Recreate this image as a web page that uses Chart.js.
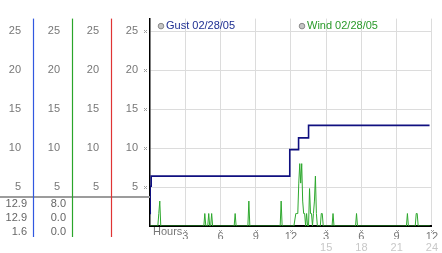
<!DOCTYPE html>
<html>
<head>
<meta charset="utf-8">
<script src="https://cdn.jsdelivr.net/npm/chart.js@4.4.0/dist/chart.umd.min.js"></script>
<style>
  html, body { margin: 0; padding: 0; background: #fff; }
  canvas { display: block; }
</style>
</head>
<body>
<canvas id="windChart" width="442" height="253"></canvas>
<script>
// Gust readings: hour of day and speed
const gustHours = [0, 0.02, 0.1, 11.9, 12.65, 13.5, 23.8];
const gustSpeeds = [1.6, 5.1, 6.4, 9.8, 11.3, 12.9, 12.9];

// Wind readings: minute of day and speed (5 minute samples around each gust of wind)
const windMinutes = [0, 40, 45, 50, 55, 275, 280, 285, 295, 300, 305, 310, 315, 320,
    430, 435, 440, 500, 505, 510, 665, 670, 675,
    735, 745, 750, 755, 760, 765, 770, 775, 780, 785, 790, 795, 800, 805, 810, 815, 820, 825,
    830, 835, 840, 845, 850, 855, 870, 875, 880, 885, 930, 935, 940,
    1050, 1055, 1060, 1310, 1315, 1320, 1355, 1360, 1365, 1370, 1430];
const windSpeeds = [0, 0, 1.6, 3.2, 0, 0, 1.6, 0, 0, 1.6, 0, 0, 1.6, 0,
    0, 1.6, 0, 0, 3.2, 0, 0, 3.2, 0,
    0, 1.6, 1.6, 1.6, 5.5, 8.0, 5.5, 8.0, 3.2, 1.6, 1.6, 0, 1.6, 0, 0, 4.8, 1.6, 1.6,
    0, 1.6, 3.2, 6.4, 1.6, 0, 0, 1.6, 1.6, 0, 0, 1.6, 0,
    0, 1.6, 0, 0, 1.6, 0, 0, 1.6, 1.6, 0, 0];

const seriesLabels = ['Gust 02/28/05', 'Wind 02/28/05'];
const yTickValues = [5, 10, 15, 20, 25];
const yMax = 26.6;
const xTickValues = [3, 6, 9, 12, 15, 18, 21, 24];
const xTopLabels = ['3', '6', '9', '12', '3', '6', '9', '12'];
const xBottomLabels = ['', '', '', '', '15', '18', '21', '24'];

const gustColor = '#101080';
const windColor = '#2ea82e';

Chart.defaults.font.family = '"Liberation Sans", Arial, sans-serif';
Chart.defaults.font.size = 11;

document.addEventListener('DOMContentLoaded', function() {
    buildChart();
});

// Little dotted tick marker
function drawDotMark(ctx, cx, cy) {
    cx = Math.round(cx);
    cy = Math.round(cy);
    [[-1, -1], [1, -1], [0, 0], [-1, 1], [1, 1]].forEach(([dx, dy]) => {
        ctx.fillRect(cx + dx, cy + dy, 1, 1);
    });
}

// Left panel lines, stats, legend and markers
const panelPlugin = {
    id: 'panelDecor',
    afterDraw(chart) {
        const ctx = chart.ctx;
        const area = chart.chartArea;
        const s = chart.scales;
        ctx.save();

        // separator across the left panel
        ctx.fillStyle = '#9c9c9c';
        ctx.fillRect(0, area.bottom - 30, area.left, 2);

        // colored column lines
        [['yGust', '#3058e0'], ['yWind', '#2aa52a'], ['yExtra', '#e03434']].forEach(([id, color]) => {
            const x = Math.round(s[id].right) + 0.5;
            ctx.strokeStyle = color;
            ctx.lineWidth = 1.2;
            ctx.beginPath();
            ctx.moveTo(x, area.top);
            ctx.lineTo(x, area.bottom + 11);
            ctx.stroke();
        });

        // max / last / min under each column
        ctx.font = '11px "Liberation Sans", Arial, sans-serif';
        ctx.fillStyle = '#666';
        ctx.textAlign = 'right';
        ctx.textBaseline = 'middle';
        [['yGust', gustSpeeds], ['yWind', windSpeeds]].forEach(([id, values]) => {
            const stats = [Math.max(...values), values[values.length - 1], Math.min(...values)];
            stats.forEach((v, i) => {
                ctx.fillText(v.toFixed(1), s[id].right - 6, area.bottom - 22 + i * 14);
            });
        });

        // dotted markers on ticks
        ctx.fillStyle = '#a0a0a0';
        yTickValues.forEach(v => drawDotMark(ctx, s.y.right - 5, s.y.getPixelForValue(v)));
        xTickValues.forEach(v => drawDotMark(ctx, s.x.getPixelForValue(v), area.bottom + 5));

        // axis caption
        ctx.fillStyle = '#777';
        ctx.textAlign = 'left';
        ctx.fillText('Hours', area.left + 3, area.bottom + 6);

        // legend
        const legendX = [area.left + 11, area.left + 152];
        chart.data.datasets.forEach((ds, i) => {
            const cx = legendX[i];
            const cy = area.top + 7.5;
            ctx.beginPath();
            ctx.arc(cx, cy, 2.8, 0, Math.PI * 2);
            ctx.fillStyle = '#c4c4c4';
            ctx.fill();
            ctx.strokeStyle = '#8a8a8a';
            ctx.lineWidth = 1;
            ctx.stroke();
            ctx.fillStyle = ds.legendColor;
            ctx.fillText(ds.label, cx + 5, cy);
        });
        ctx.restore();
    }
};

function leftAxis(weight, width, extra) {
    return Object.assign({
        position: 'left',
        min: 0,
        max: yMax,
        weight: weight,
        afterBuildTicks: sc => { sc.ticks = yTickValues.map(v => ({ value: v })); },
        afterFit: sc => { sc.width = width; },
        grid: { display: false, drawTicks: false },
        border: { display: false },
        ticks: { color: '#777', padding: 12 }
    }, extra || {});
}

function buildChart() {
    const ctx = document.getElementById('windChart').getContext('2d');
    window.windChart = new Chart(ctx, {
        type: 'line',
        data: {
            datasets: [{
                label: seriesLabels[0],
                data: gustHours.map((h, i) => ({ x: h, y: gustSpeeds[i] })),
                borderColor: gustColor,
                legendColor: '#1e2f92',
                borderWidth: 1.6,
                stepped: true,
                pointRadius: 0,
                fill: false,
                xAxisID: 'x',
                yAxisID: 'y'
            }, {
                label: seriesLabels[1],
                data: windMinutes.map((m, i) => ({ x: m / 60, y: windSpeeds[i] })),
                borderColor: windColor,
                legendColor: '#2a9a2a',
                borderWidth: 1,
                tension: 0,
                pointRadius: 0,
                fill: false,
                xAxisID: 'x',
                yAxisID: 'y'
            }]
        },
        options: {
            responsive: false,
            devicePixelRatio: 1,
            animation: false,
            layout: { padding: { top: 13, right: 4, bottom: 0, left: 0 } },
            plugins: {
                legend: { display: false },
                tooltip: { enabled: false }
            },
            scales: {
                x: {
                    type: 'linear',
                    position: 'bottom',
                    min: 0,
                    max: 24,
                    weight: 1,
                    afterBuildTicks: sc => { sc.ticks = xTickValues.map(v => ({ value: v })); },
                    afterFit: sc => { sc.height = 13; },
                    grid: { color: '#dcdcdc', drawTicks: false },
                    border: { color: '#000', width: 2 },
                    ticks: {
                        color: '#777',
                        padding: 4,
                        maxRotation: 0,
                        autoSkip: false,
                        callback: (v, i) => xTopLabels[i]
                    }
                },
                x2: {
                    type: 'linear',
                    position: 'bottom',
                    min: 0,
                    max: 24,
                    weight: 2,
                    afterBuildTicks: sc => { sc.ticks = xTickValues.map(v => ({ value: v })); },
                    afterFit: sc => { sc.height = 14; },
                    grid: { display: false, drawTicks: false },
                    border: { display: false },
                    ticks: {
                        color: '#c8c8c8',
                        padding: 2,
                        maxRotation: 0,
                        autoSkip: false,
                        callback: (v, i) => xBottomLabels[i]
                    }
                },
                y: leftAxis(1, 39, {
                    grid: { color: '#dcdcdc', drawTicks: false },
                    border: { color: '#000', width: 1.5 }
                }),
                yExtra: leftAxis(2, 39),
                yWind: leftAxis(3, 39),
                yGust: leftAxis(4, 33)
            }
        },
        plugins: [panelPlugin]
    });
}
</script>
</body>
</html>
